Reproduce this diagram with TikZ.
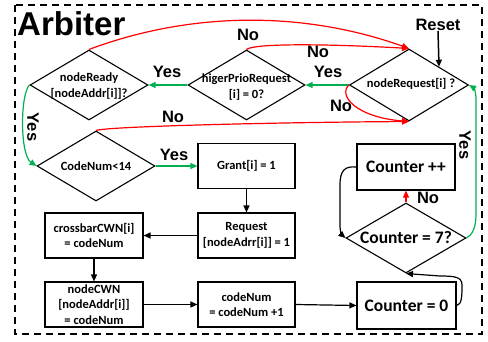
\documentclass[tikz,border=0pt]{standalone}
\usepackage{fontspec}
\newfontfamily\arialf{Liberation Sans}
\newfontfamily\calf{Carlito}
\usetikzlibrary{shapes.geometric,arrows.meta}
\definecolor{myred}{RGB}{255,0,0}
\definecolor{mygreen}{RGB}{0,176,80}
\newcommand{\boxfont}{\calf\bfseries\fontsize{12.5}{15.5}\selectfont}
\newcommand{\bigboxfont}{\calf\bfseries\fontsize{17.5}{20}\selectfont}
\newcommand{\labfont}{\arialf\bfseries\fontsize{16.5}{18}\selectfont}
\begin{document}
\begin{tikzpicture}[x=1pt,y=-1pt,
  box/.style={draw, line width=1.1pt, minimum width=97pt, minimum height=45pt, inner sep=0pt, align=center, font=\boxfont},
  bigbox/.style={box, font=\bigboxfont},
  dia/.style={draw, diamond, line width=1.1pt, minimum width=118pt, minimum height=70pt, inner sep=0pt},
  dtext/.style={align=center, font=\boxfont, inner sep=0pt},
  lab/.style={font=\labfont, inner sep=0pt},
  conn/.style={line width=1.2pt, -{Triangle[length=7pt,width=6pt]}},
  redc/.style={conn, color=myred},
  greenc/.style={conn, color=mygreen}]
\useasboundingbox (0,0) rectangle (488,342);
\draw[line width=1.8pt, dash pattern=on 7pt off 5pt] (15,5) rectangle (482,334);
\node[anchor=base west, inner sep=0pt, font=\arialf\bfseries\fontsize{33}{36}\selectfont] (title) at (17,36) {Arbiter};

% diamonds
\node[dia] (d1) at (89,85) {};
\node[dtext] (d1t) at (89,86) {nodeReady\\{[}nodeAddr[i]]?};
\node[dia, minimum width=117pt] (d2) at (246.5,85) {};
\node[dtext] (d2t) at (246.5,87) {higerPrioRequest\\{[}i] = 0?};
\node[dia, minimum width=119pt, minimum height=72pt] (d3) at (409,85) {};
\node[dtext] (d3t) at (411,84) {nodeRequest[i] ?};
\node[dia] (d4) at (96,166) {};
\node[dtext] (d4t) at (96,166) {CodeNum<14};
\node[dia, minimum width=120pt] (d5) at (406,238) {};
\node[dtext, font=\bigboxfont] (d5t) at (406,238) {Counter = 7?};

% boxes
\node[box] (grant) at (246.5,166) {Grant[i] = 1};
\node[box] (request) at (246.5,235.5) {Request\\{[}nodeAdrr[i]] = 1};
\node[box, minimum width=98pt] (crossbar) at (94,235.5) {crossbarCWN[i]\\= codeNum};
\node[box, minimum width=98pt] (nodecwn) at (94,304.5) {nodeCWN\\{[}nodeAddr[i]]\\= codeNum};
\node[box] (codenum) at (246.5,304.5) {codeNum\\= codeNum +1};
\node[bigbox, minimum width=99pt, minimum height=47pt] (counter0) at (406.5,305.5) {Counter = 0};
\node[bigbox, minimum width=98pt, minimum height=46pt] (counterpp) at (406,167) {Counter ++};

% Reset
\node[lab] (reset) at (438,25) {Reset};
\draw[conn, line width=1.5pt] (reset.south) -- (d3.north east);

% green connectors
\draw[greenc] (d2.west) -- (d1.east);
\node[lab] (y1) at (167,72) {Yes};
\draw[greenc] (d3.west) -- (d2.east);
\node[lab] (y2) at (328,72) {Yes};
\draw[greenc] (d1.west) .. controls (20,95) and (20,155) .. (d4.west);
\node[lab, rotate=-90] (y3) at (33,127) {Yes};
\draw[greenc] (d4.east) -- (grant.west);
\node[lab] (y4) at (174,155) {Yes};
\draw[greenc] (d5.east) .. controls (472,235) and (476,228) .. (476,215) -- (476,100) .. controls (476,92) and (474,88) .. (d3.east);
\node[lab, rotate=-90] (y5) at (465,145) {Yes};

% red connectors
\draw[redc] (d1.north) .. controls (192,11) and (304,11) .. (d3.north);
\node[lab] (n1) at (248,35) {No};
\draw[redc] (d2.north) .. controls (255,43) and (330,44) .. (d3.north);
\node[lab] (n2) at (318,52) {No};
\draw[redc] (d3.west) .. controls (338,95) and (355,117) .. (d3.south);
\node[lab] (n3) at (341,106) {No};
\draw[redc] (d4.north) .. controls (110,126) and (300,122) .. (d3.south);
\node[lab] (n4) at (173,117) {No};
\draw[redc] (d5.north) -- (counterpp.south);
\node[lab] (n5) at (428,198) {No};

% black connectors
\draw[conn] (grant.south) -- (request.north);
\draw[conn] (request.west) -- (crossbar.east);
\draw[conn] (crossbar.south) -- (nodecwn.north);
\draw[conn] (nodecwn.east) -- (codenum.west);
\draw[conn] (codenum.east) -- (counter0.west);
\draw[conn] (counter0.east) .. controls (462,305) and (462,295) .. (462,285) .. controls (462,277) and (455,276) .. (440,276) -- (d5.south);
\draw[conn] (counterpp.west) .. controls (345,166) and (340,170) .. (340,185) -- (340,225) .. controls (340,232) and (342,235) .. (d5.west);
\end{tikzpicture}
\end{document}
